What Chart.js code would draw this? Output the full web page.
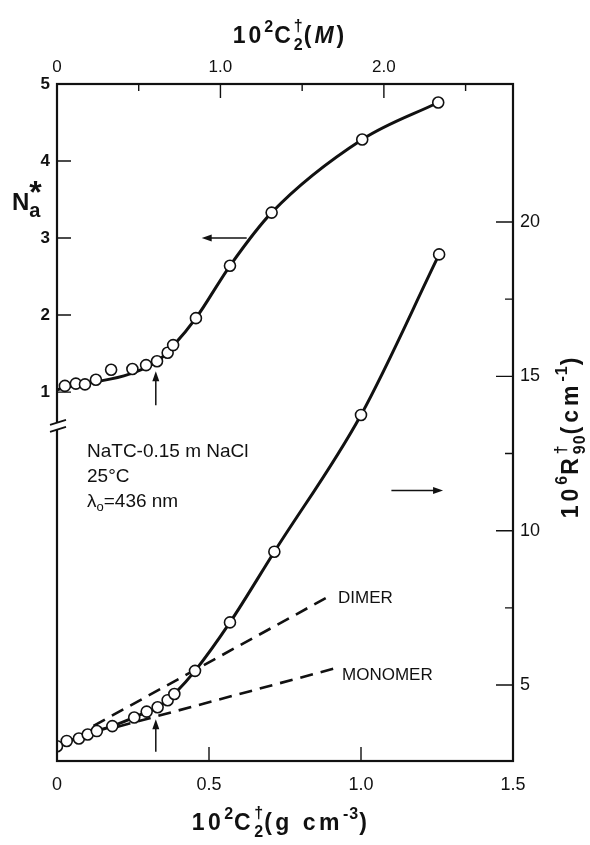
<!DOCTYPE html>
<html>
<head>
<meta charset="utf-8">
<script src="https://cdn.jsdelivr.net/npm/chart.js@4/dist/chart.umd.min.js"></script>
<style>
html,body{margin:0;padding:0;background:#fff;}
#wrap{width:590px;height:845px;}
</style>
</head>
<body>
<div id="wrap"><canvas id="myChart" width="590" height="845"></canvas></div>
<script>
// Na* (left axis) measured points, x = 10^2 C2 (g cm-3)
var naX = [0.026,0.062,0.092,0.128,0.178,0.248,0.293,0.329,0.364,0.382,0.457,0.569,0.706,1.004,1.254];
var naY = [1.08,1.11,1.10,1.16,1.29,1.30,1.35,1.40,1.51,1.61,1.96,2.64,3.33,4.28,4.76];
// the drawn curve through the Na* points
var naCurveX = [0,0.33,0.382,0.457,0.569,0.706,1.004,1.254];
var naCurveY = [1.03,1.40,1.60,1.96,2.64,3.33,4.28,4.76];
// 10^6 R90 (right axis) points
var rX = [0.0,0.032,0.072,0.101,0.131,0.182,0.254,0.295,0.331,0.364,0.386,0.454,0.569,0.715,1.0,1.257];
var rY = [3.02,3.19,3.27,3.40,3.51,3.67,3.95,4.14,4.28,4.51,4.71,5.46,7.03,9.32,13.75,18.95];
// dashed model lines
var dimerX = [0.12,0.905];
var dimerY = [3.68,7.93];
var monoX = [0.2,0.914];
var monoY = [3.65,5.54];
// tick labels
var bottomTicks = [0,0.5,1.0,1.5];
var topTicks = [0,1.0,2.0];
var naTicks = [1,2,3,4,5];
var rTicks = [5,10,15,20];

var MOLAR = 1.86;   // 10^2 M per 10^2 g cm-3
var INK = '#111';
var FONT = '"Liberation Sans", Arial, sans-serif';

function pts(xs, ys){
    return xs.map(function(x,i){ return {x:x, y:ys[i]}; });
}
function fmt(v){ return v===0 ? '0' : v.toFixed(1); }

// draws text pieces side by side; an inner array stacks pieces (sup over sub)
function drawRich(ctx, parts, x, y, align, spacing){
    var total = 0, widths = [];
    function ls(q){ return (q.small ? 1 : (spacing||0)) + 'px'; }
    parts.forEach(function(p){
        var grp = Array.isArray(p) ? p : [p];
        var w = 0;
        grp.forEach(function(q){ ctx.font = q.f; ctx.letterSpacing = ls(q); w = Math.max(w, ctx.measureText(q.t).width); });
        widths.push(w); total += w;
    });
    var cx = align==='center' ? x - total/2 : x;
    ctx.textAlign = 'left';
    ctx.textBaseline = 'alphabetic';
    parts.forEach(function(p,i){
        var grp = Array.isArray(p) ? p : [p];
        grp.forEach(function(q){ ctx.font = q.f; ctx.letterSpacing = ls(q); ctx.fillText(q.t, cx, y + (q.dy||0)); });
        cx += widths[i];
    });
    ctx.letterSpacing = '0px';
}

function arrow(ctx, x1, y1, x2, y2){
    var a = Math.atan2(y2-y1, x2-x1);
    ctx.beginPath();
    ctx.moveTo(x1,y1); ctx.lineTo(x2 - 7*Math.cos(a), y2 - 7*Math.sin(a));
    ctx.stroke();
    ctx.beginPath();
    ctx.moveTo(x2,y2);
    ctx.lineTo(x2 - 10*Math.cos(a) + 3.5*Math.sin(a), y2 - 10*Math.sin(a) - 3.5*Math.cos(a));
    ctx.lineTo(x2 - 10*Math.cos(a) - 3.5*Math.sin(a), y2 - 10*Math.sin(a) + 3.5*Math.cos(a));
    ctx.closePath();
    ctx.fill();
}

var B = 'bold 23px ' + FONT, BS = 'bold 16px ' + FONT, BI = 'italic bold 23px ' + FONT;
function sup(t){ return {t:t, f:BS, dy:-11, small:true}; }
function sub(t){ return {t:t, f:BS, dy:7, small:true}; }
function dag(){ return {t:'†', f:BS, dy:-12, small:true}; }

var extras = {
    id: 'extras',
    afterDatasetsDraw: function(chart){
        var ctx = chart.ctx, a = chart.chartArea, s = chart.scales;
        var x = s.x, xt = s.xTop, yl = s.yL, yr = s.yR;
        ctx.save();
        ctx.strokeStyle = INK; ctx.fillStyle = INK;

        // frame
        ctx.lineWidth = 2.2;
        ctx.strokeRect(a.left, a.top, a.right - a.left, a.bottom - a.top);

        // inward ticks
        ctx.lineWidth = 1.4;
        ctx.beginPath();
        [0.5,1.0].forEach(function(v){ var p = x.getPixelForValue(v); ctx.moveTo(p,a.bottom); ctx.lineTo(p,a.bottom-14); });
        [1.0,2.0].forEach(function(v){ var p = xt.getPixelForValue(v); ctx.moveTo(p,a.top); ctx.lineTo(p,a.top+14); });
        [0.5,1.5,2.5].forEach(function(v){ var p = xt.getPixelForValue(v); ctx.moveTo(p,a.top); ctx.lineTo(p,a.top+7); });
        [1,2,3,4].forEach(function(v){ var p = yl.getPixelForValue(v); ctx.moveTo(a.left,p); ctx.lineTo(a.left+14,p); });
        [5,10,15,20].forEach(function(v){ var p = yr.getPixelForValue(v); ctx.moveTo(a.right,p); ctx.lineTo(a.right-17,p); });
        [7.5,12.5,17.5].forEach(function(v){ var p = yr.getPixelForValue(v); ctx.moveTo(a.right,p); ctx.lineTo(a.right-8,p); });
        ctx.stroke();

        // axis break on the left axis
        var yb = yl.getPixelForValue(0.56);
        ctx.fillStyle = '#fff';
        ctx.fillRect(a.left-3, yb-3, 6, 6);
        ctx.fillStyle = INK;
        ctx.lineWidth = 1.8;
        ctx.beginPath();
        ctx.moveTo(a.left-7, yb-1); ctx.lineTo(a.left+9, yb-6);
        ctx.moveTo(a.left-7, yb+6); ctx.lineTo(a.left+9, yb+1);
        ctx.stroke();

        // arrows
        ctx.lineWidth = 1.5;
        arrow(ctx, x.getPixelForValue(0.624), yl.getPixelForValue(3.0), x.getPixelForValue(0.476), yl.getPixelForValue(3.0));
        arrow(ctx, x.getPixelForValue(1.10), yr.getPixelForValue(11.3), x.getPixelForValue(1.27), yr.getPixelForValue(11.3));
        arrow(ctx, x.getPixelForValue(0.325), yl.getPixelForValue(0.83), x.getPixelForValue(0.325), yl.getPixelForValue(1.27));
        arrow(ctx, x.getPixelForValue(0.325), yr.getPixelForValue(2.84), x.getPixelForValue(0.325), yr.getPixelForValue(3.89));

        // annotations
        ctx.textAlign = 'left'; ctx.textBaseline = 'alphabetic';
        ctx.font = '19px ' + FONT;
        ctx.fillText('NaTC-0.15 m NaCl', 87, 457);
        ctx.fillText('25°C', 87, 482);
        drawRich(ctx, [{t:'λ', f:'19px '+FONT},{t:'o', f:'13px '+FONT, dy:4},{t:'=436 nm', f:'19px '+FONT}], 87, 507, 'left');
        ctx.font = '17px ' + FONT;
        ctx.fillText('DIMER', 338, 603);
        ctx.fillText('MONOMER', 342, 680);

        // axis titles
        drawRich(ctx, [{t:'10',f:B},sup('2'),{t:'C',f:B},[dag(),sub('2')],{t:'(',f:B},{t:'M',f:BI},{t:')',f:B}], 290, 43, 'center', 3);
        drawRich(ctx, [{t:'10',f:B},sup('2'),{t:'C',f:B},[dag(),sub('2')],{t:'(g cm',f:B},sup('-3'),{t:')',f:B}], 281, 830, 'center', 3.5);
        drawRich(ctx, [{t:'N',f:'bold 24px '+FONT},[{t:'a',f:'bold 20px '+FONT,dy:7},{t:'*',f:'bold 32px '+FONT,dy:-7}]], 12, 210, 'left');
        ctx.save();
        ctx.translate(578, 436);
        ctx.rotate(-Math.PI/2);
        drawRich(ctx, [{t:'10',f:B},sup('6'),{t:'R',f:B},[dag(),sub('90')],{t:'(cm',f:B},sup('-1'),{t:')',f:B}], 0, 0, 'center', 4);
        ctx.restore();

        ctx.restore();
    }
};

var tickFont = {family: FONT, size: 18};

var config = {
    type: 'scatter',
    data: {
        datasets: [
            {label:'Na pts', data: pts(naX,naY), yAxisID:'yL', pointRadius:5.5, pointBackgroundColor:'#fff', pointBorderColor:INK, pointBorderWidth:1.6, showLine:false},
            {label:'R pts', data: pts(rX,rY), yAxisID:'yR', pointRadius:5.5, pointBackgroundColor:'#fff', pointBorderColor:INK, pointBorderWidth:1.6, showLine:false},
            {label:'Na curve', data: pts(naCurveX,naCurveY), yAxisID:'yL', showLine:true, borderColor:INK, borderWidth:3, pointRadius:0, cubicInterpolationMode:'monotone'},
            {label:'R curve', data: pts(rX,rY), yAxisID:'yR', showLine:true, borderColor:INK, borderWidth:3, pointRadius:0, cubicInterpolationMode:'monotone'},
            {label:'DIMER', data: pts(dimerX,dimerY), yAxisID:'yR', showLine:true, borderColor:INK, borderWidth:2.6, borderDash:[13,8], pointRadius:0},
            {label:'MONOMER', data: pts(monoX,monoY), yAxisID:'yR', showLine:true, borderColor:INK, borderWidth:2.6, borderDash:[13,8], pointRadius:0}
        ]
    },
    options: {
        responsive: false,
        animation: false,
        layout: {padding: 0},
        plugins: {legend:{display:false}, tooltip:{enabled:false}, title:{display:false}},
        scales: {
            x: {
                type:'linear', position:'bottom', min:0, max:1.5,
                afterBuildTicks: function(sc){ sc.ticks = bottomTicks.map(function(v){ return {value:v}; }); },
                ticks: {callback: fmt, font: tickFont, color: INK, padding: 13, maxRotation: 0, autoSkip: false},
                grid: {display:false, drawTicks:false}, border: {display:false},
                afterFit: function(sc){ sc.height = 84; }
            },
            xTop: {
                type:'linear', position:'top', min:0, max:1.5*MOLAR,
                afterBuildTicks: function(sc){ sc.ticks = topTicks.map(function(v){ return {value:v}; }); },
                ticks: {callback: fmt, font: {family: FONT, size: 17}, color: INK, padding: 6, maxRotation: 0, autoSkip: false},
                grid: {display:false, drawTicks:false}, border: {display:false},
                afterFit: function(sc){ sc.height = 84; }
            },
            yL: {
                type:'linear', position:'left', min:-3.79, max:5,
                afterBuildTicks: function(sc){ sc.ticks = naTicks.map(function(v){ return {value:v}; }); },
                ticks: {font: {family: FONT, size: 17, weight: 'bold'}, color: INK, padding: 7, autoSkip: false},
                grid: {display:false, drawTicks:false}, border: {display:false},
                afterFit: function(sc){ sc.width = 57; }
            },
            yR: {
                type:'linear', position:'right', min:2.54, max:24.47,
                afterBuildTicks: function(sc){ sc.ticks = rTicks.map(function(v){ return {value:v}; }); },
                ticks: {font: tickFont, color: INK, padding: 7, autoSkip: false},
                grid: {display:false, drawTicks:false}, border: {display:false},
                afterFit: function(sc){ sc.width = 77; }
            }
        }
    },
    plugins: [extras]
};

var myChart = new Chart(document.getElementById('myChart'), config);
</script>
</body>
</html>
